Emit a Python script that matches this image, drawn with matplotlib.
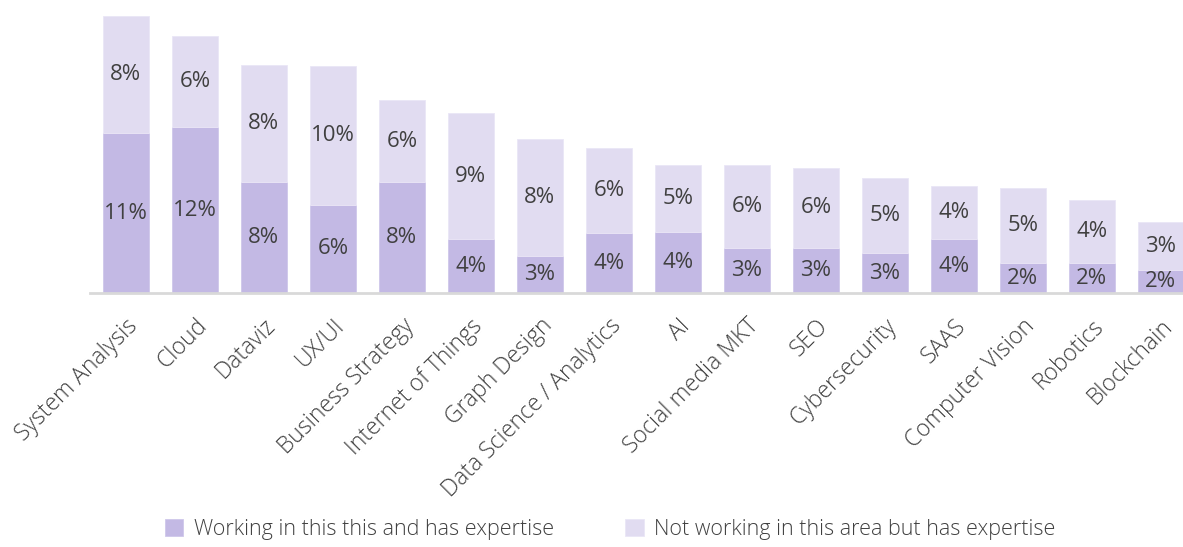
import matplotlib
matplotlib.use("Agg")
import matplotlib.pyplot as plt
import numpy as np

plt.rcParams["font.family"] = ["Open Sans", "DejaVu Sans"]
plt.rcParams["font.weight"] = "light"

# ── Data: share of respondents per skill area (%) ─────────────────
skills = ["System Analysis", "Cloud", "Dataviz", "UX/UI", "Business Strategy",
          "Internet of Things", "Graph Design", "Data Science / Analytics", "AI",
          "Social media MKT", "SEO", "Cybersecurity", "SAAS", "Computer Vision",
          "Robotics", "Blockchain"]
working = [11.2, 11.6, 7.8, 6.2, 7.8, 3.8, 2.6, 4.2, 4.3, 3.2, 3.2, 2.8, 3.8, 2.1, 2.1, 1.6]
not_working = [8.2, 6.4, 8.2, 9.7, 5.7, 8.8, 8.2, 6.0, 4.7, 5.8, 5.6, 5.3, 3.7, 5.3, 4.4, 3.4]

legend_labels = ["Working in this this and has expertise",
                 "Not working in this area but has expertise"]
c_work = "#C3B9E4"
c_notwork = "#E1DCF1"
txt = "#404040"

x = np.arange(len(skills))
working = np.array(working)
not_working = np.array(not_working)

fig = plt.figure(figsize=(11.83, 5.47), dpi=100)
ax = fig.add_axes([90 / 1183, 1 - 293.3 / 547, (1183 - 90) / 1183, 277.3 / 547])

b1 = ax.bar(x, working, width=0.667, color=c_work, edgecolor="#CFC7EA", linewidth=0.6,
            label=legend_labels[0])
b2 = ax.bar(x, not_working, width=0.667, bottom=working, color=c_notwork,
            edgecolor="#EAE6F6", linewidth=0.6, label=legend_labels[1])

for i in range(len(skills)):
    ax.text(x[i], working[i] / 2, f"{working[i]:.0f}%", ha="center", va="center",
            fontsize=16, color=txt, fontweight="normal")
    ax.text(x[i], working[i] + not_working[i] / 2, f"{not_working[i]:.0f}%",
            ha="center", va="center", fontsize=16, color=txt, fontweight="normal")

ax.set_xlim(-0.52, 15.32)
ax.set_ylim(0, 19.4)
ax.set_yticks([])
ax.set_xticks(x)
ax.set_xticklabels(skills, rotation=45, ha="right", rotation_mode="anchor",
                   fontsize=16.5, color=txt)
ax.tick_params(axis="x", length=0, pad=15)
for s in ["top", "right", "left"]:
    ax.spines[s].set_visible(False)
ax.spines["bottom"].set_color("#D9D9D9")
ax.spines["bottom"].set_linewidth(2)

fig.legend(handles=[b1, b2], labels=legend_labels, loc="lower center",
           bbox_to_anchor=(0.516, -0.022), ncol=2, frameon=False, fontsize=15.5,
           handlelength=0.85, handleheight=0.85, handletextpad=0.5,
           columnspacing=3.3, labelcolor=txt)

fig.savefig("out.png", dpi=100)
